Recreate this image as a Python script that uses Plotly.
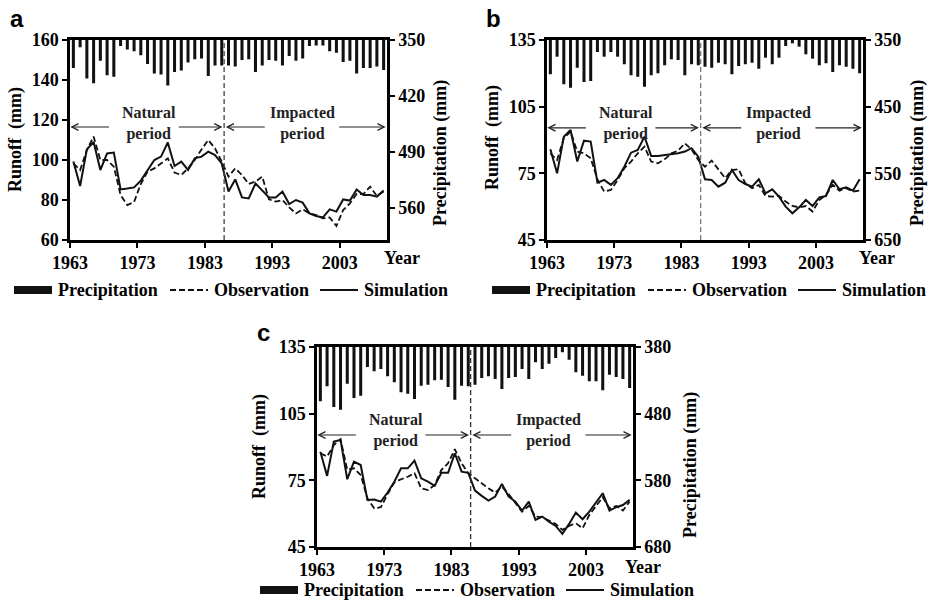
import plotly.graph_objects as go

# ---------------- data ----------------
years = list(range(1963, 2010))
tick_years = [1963, 1973, 1983, 1993, 2003]

precip_a = [385, 359, 398, 404, 376, 394, 396, 357.5, 362, 364, 369, 380, 392, 393, 407, 390, 388, 378,
            374, 373, 395, 382, 382, 382, 383, 375, 374, 390, 382, 375, 376, 382, 370, 376, 373, 357.5,
            357, 357, 364, 366, 377.5, 376, 392, 385, 385, 383, 387.5]
obs_a = [98.3, 95, 105, 111.7, 100, 100, 96.7, 82.5, 77.5, 79, 88, 94.2, 95.8, 98.3, 100.8, 93.7, 92.5,
         95.8, 100, 105.3, 110, 105.8, 99.2, 91.7, 95.8, 92.5, 88, 89.2, 91.7, 80.3, 79.2, 80, 76.3, 73.3,
         75.3, 73.3, 72.5, 70.8, 71.3, 67, 75, 78.3, 83, 83, 86.7, 82, 84.2]
sim_a = [99.2, 87, 105.3, 109, 95, 103.3, 103.7, 85.3, 85.7, 86.3, 89.7, 95, 100, 101.7, 108.8, 97, 99.2,
         95, 100.8, 101.7, 104.2, 102.5, 98.3, 84.2, 90.3, 81.3, 80.8, 88.3, 85, 81.3, 81.3, 84.2, 78, 80,
         78.7, 73.3, 72, 71.3, 75.3, 74.2, 80.3, 79.7, 85.3, 82.5, 82.5, 81.7, 84.7]

precip_b = [401.5, 375, 416.5, 421.5, 391.5, 413, 411.5, 368, 375, 368, 375, 386.5, 403, 405, 420, 403, 400,
            388, 379, 380, 403, 386.5, 388, 390, 391.5, 384, 386.5, 401.5, 389, 386.5, 384, 393, 376.5,
            386.5, 376.5, 359, 355, 360, 371.5, 378, 388, 385, 398, 388, 390, 393, 400]
obs_b = [84, 81, 90.8, 93.8, 84.8, 84, 81.8, 72.3, 66.8, 67.5, 72, 77.3, 80.3, 84, 87, 80.3, 79.5, 81.3,
         84, 85.2, 88.5, 85.8, 81, 78, 80.7, 76.5, 72.8, 76.5, 76.8, 70.5, 68.3, 69.8, 64.8, 64.5, 64.8,
         62.3, 60.3, 59.7, 60.3, 57.8, 63, 65.3, 69.8, 67.2, 68.3, 66.8, 67.2]
sim_b = [85.8, 75, 91.5, 94.5, 80.3, 89.7, 89.3, 70.8, 72, 69.8, 72.8, 78, 84.3, 85.5, 91.5, 82.8, 82.8,
         83.1, 83.7, 84, 84.8, 86.3, 82.5, 72.3, 72, 69, 70.8, 76.5, 72, 70.2, 69, 72.3, 66, 67.8, 64.5, 60,
         57, 59.7, 63, 60.3, 64.2, 64.8, 72, 67.8, 68.7, 67.2, 72.3]

precip_c = [461.5, 439, 470, 474, 435, 456.5, 453, 410, 416.5, 413, 424, 433, 448, 450, 458, 438, 436.5,
            430, 429, 440, 459, 438, 439, 436.5, 426.5, 424, 428, 443, 426.5, 425, 413, 428, 403, 413, 405,
            396.5, 388, 399, 418, 423, 431.5, 431.5, 445, 421.5, 425, 428, 441.5]
obs_c = [87.2, 85.7, 90.9, 93.5, 79.7, 80.4, 77.4, 66.9, 62.4, 62.9, 68.8, 74, 75.5, 76.6, 78.2, 71.4, 70.6,
         72.9, 79.7, 82.7, 89, 82.7, 78.2, 75.9, 73.4, 71.4, 69.5, 72.2, 68.8, 64.7, 60.9, 63.5, 58.7, 58.4,
         56.9, 55.4, 52.7, 54.5, 55.7, 53.4, 59.4, 63.5, 67.4, 62.4, 63.5, 61.4, 65.4]
sim_c = [87.9, 77, 92.4, 93.2, 75.5, 83.4, 81.9, 66.2, 66.4, 65.4, 69.5, 74.4, 80.4, 80.4, 83.9, 75.9, 74.4,
         72.5, 78.4, 78.4, 87.2, 78.9, 78.4, 70.4, 68, 65.9, 67.7, 73.4, 67.7, 65.4, 61.4, 65.4, 57.2, 58.7,
         56.4, 54.5, 50.9, 55.4, 60.5, 57.5, 60.9, 65, 69.2, 61.4, 62.9, 63.9, 66.2]

series_names = ["Precipitation", "Observation", "Simulation"]
period_labels = ["Natural<br>period", "Impacted<br>period"]
breakpoint_year = 1985.35

# ---------------- layout helpers ----------------
W, H = 930, 606
SERIF = "Liberation Serif"
SANS = "Liberation Sans"


def fx(p):
    return p / W


def fy(p):
    return 1 - p / H


tick_font = dict(family=SERIF, size=18, color="black", weight="bold")
text_font = dict(family=SERIF, size=18, color="black", weight="bold")

panels = [
    dict(letter="a", xa="x", ya="y", ya2="y2", xk="xaxis", yk="yaxis", y2k="yaxis2",
         xdom=(70, 387), ydom=(40, 240), precip=precip_a, obs=obs_a, sim=sim_a,
         lr=(60, 160), ldt=20, rr=(600, 350), rt=[350, 420, 490, 560],
         arrow_y=116.5, label_y=118.3, letter_pos=(17, 19),
         ltitle=(15, 140), rtitle=(440, 153), year_pos=(402, 258), legend_pos=(14, 290),
         sep_color="#444"),
    dict(letter="b", xa="x2", ya="y3", ya2="y4", xk="xaxis2", yk="yaxis3", y2k="yaxis4",
         xdom=(547, 863), ydom=(40, 240), precip=precip_b, obs=obs_b, sim=sim_b,
         lr=(45, 135), ldt=30, rr=(650, 350), rt=[350, 450, 550, 650],
         arrow_y=95.5, label_y=97.4, letter_pos=(494, 18),
         ltitle=(492, 138), rtitle=(917, 153), year_pos=(877, 258), legend_pos=(492, 290),
         sep_color="#777"),
    dict(letter="c", xa="x3", ya="y5", ya2="y6", xk="xaxis3", yk="yaxis5", y2k="yaxis6",
         xdom=(317, 633), ydom=(347, 547), precip=precip_c, obs=obs_c, sim=sim_c,
         lr=(45, 135), ldt=30, rr=(680, 380), rt=[380, 480, 580, 680],
         arrow_y=95.4, label_y=97.6, letter_pos=(263, 332),
         ltitle=(259, 447), rtitle=(690, 465), year_pos=(643, 567), legend_pos=(260, 590),
         sep_color="#333"),
]

# legend item offsets (symbol start relative to legend start) and symbol styles
legend_offsets = [0, 156, 306]
legend_sym_len = 38
legend_styles = [dict(width=8, dash="solid"), dict(width=2, dash="6px,3px"), dict(width=2, dash="solid")]

fig = go.Figure()
annotations = []
shapes = []
layout = {}


def paper_text(x, y, text, font, angle=0, xanchor="center"):
    return dict(x=fx(x), y=fy(y), xref="paper", yref="paper", text=text, showarrow=False,
                xanchor=xanchor, yanchor="middle", textangle=angle, font=font)


for p in panels:
    xa, ya, ya2 = p["xa"], p["ya"], p["ya2"]
    # precipitation bars hanging from the top (reversed right axis)
    fig.add_trace(go.Bar(x=years, y=p["precip"], xaxis=xa, yaxis=ya2, width=0.45,
                         marker=dict(color="#111", line=dict(width=0)), showlegend=False,
                         name=series_names[0]))
    fig.add_trace(go.Scatter(x=years, y=p["obs"], xaxis=xa, yaxis=ya, mode="lines",
                             line=dict(color="#111", width=1.8, dash="6px,3px"),
                             showlegend=False, name=series_names[1]))
    fig.add_trace(go.Scatter(x=years, y=p["sim"], xaxis=xa, yaxis=ya, mode="lines",
                             line=dict(color="#111", width=2), showlegend=False,
                             name=series_names[2]))

    xdom = [fx(p["xdom"][0]), fx(p["xdom"][1])]
    ydom = [fy(p["ydom"][1]), fy(p["ydom"][0])]
    line_common = dict(showline=True, linewidth=2.5, linecolor="black", showgrid=False,
                       zeroline=False, ticks="outside", ticklen=5, tickwidth=2,
                       tickcolor="black", tickfont=tick_font, automargin=False)
    layout[p["xk"]] = dict(domain=xdom, range=[years[0] - 0.5, years[-1] + 0.5],
                           tickvals=[t - 0.5 for t in tick_years],
                           ticktext=[str(t) for t in tick_years], anchor=ya,
                           mirror=True, **line_common)
    layout[p["yk"]] = dict(domain=ydom, range=list(p["lr"]), dtick=p["ldt"], tick0=p["lr"][0],
                           anchor=xa, **line_common)
    layout[p["y2k"]] = dict(overlaying=ya, side="right", range=list(p["rr"]),
                            tickvals=p["rt"], anchor=xa, **line_common)

    # separator line between natural / impacted periods
    shapes.append(dict(type="line", xref=xa, yref=f"{ya} domain", x0=breakpoint_year,
                       x1=breakpoint_year, y0=0, y1=1,
                       line=dict(color=p["sep_color"], width=1.3, dash="5px,3px")))

    # period labels and arrows
    lab_font = dict(family=SERIF, size=16, color="#222", weight="bold")
    annotations.append(dict(x=1974.2, y=p["label_y"], xref=xa, yref=ya, text=period_labels[0],
                            showarrow=False, font=lab_font, align="center",
                            xanchor="center", yanchor="middle"))
    annotations.append(dict(x=1996.9, y=p["label_y"], xref=xa, yref=ya, text=period_labels[1],
                            showarrow=False, font=lab_font, align="center",
                            xanchor="center", yanchor="middle"))
    arrow_pairs = [(1968.5, years[0] - 0.45), (1978.4, 1985.1),
                   (1991.6, 1985.6), (2002.2, years[-1] + 0.3)]
    for tail, tip in arrow_pairs:
        annotations.append(dict(x=tip, y=p["arrow_y"], ax=tail, ay=p["arrow_y"], xref=xa, yref=ya,
                                axref=xa, ayref=ya, text="", showarrow=True, arrowhead=5,
                                arrowsize=1.1, arrowwidth=1.2, arrowcolor="#222", standoff=0,
                                startstandoff=0))

    # panel letter
    annotations.append(paper_text(*p["letter_pos"], p["letter"],
                                  dict(family=SANS, size=24, color="black", weight="bold")))
    # axis titles
    annotations.append(paper_text(*p["ltitle"], "Runoff  (mm)", text_font, angle=-90))
    annotations.append(paper_text(*p["rtitle"], "Precipitation (mm)", text_font, angle=-90))
    annotations.append(paper_text(*p["year_pos"], "Year", text_font))

    # hand-drawn legend (symbol + label) for this panel
    lx, ly = p["legend_pos"]
    for name, off, sty in zip(series_names, legend_offsets, legend_styles):
        shapes.append(dict(type="line", xref="paper", yref="paper",
                           x0=fx(lx + off), x1=fx(lx + off + legend_sym_len),
                           y0=fy(ly), y1=fy(ly),
                           line=dict(color="#111", width=sty["width"], dash=sty["dash"])))
        annotations.append(paper_text(lx + off + legend_sym_len + 4, ly, name, text_font,
                                      xanchor="left"))

fig.update_layout(width=W, height=H, margin=dict(l=0, r=0, t=0, b=0, autoexpand=False),
                  paper_bgcolor="white", plot_bgcolor="white", barmode="overlay",
                  showlegend=False, annotations=annotations, shapes=shapes, **layout)

fig.write_html("out.html")
